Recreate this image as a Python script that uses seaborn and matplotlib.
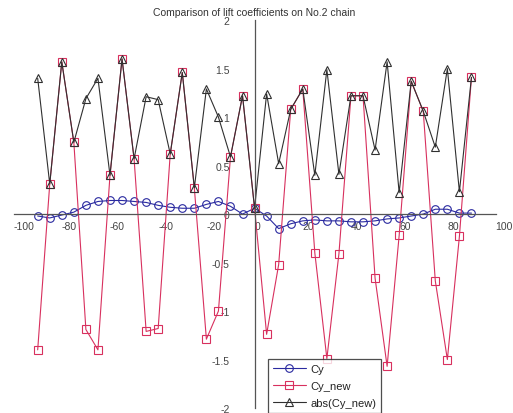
import numpy as np
import pandas as pd
import matplotlib
matplotlib.use("Agg")
import matplotlib.pyplot as plt
import seaborn as sns

# ---- data ----
x_vals = [-90, -85, -80, -75, -70, -65, -60, -55, -50, -45, -40, -35, -30, -25,
          -20, -15, -10, -5, 0, 5, 10, 15, 20, 25, 30, 35, 40, 45, 50, 55, 60,
          65, 70, 75, 80, 85, 90]
cy = [-0.02, -0.04, -0.01, 0.02, 0.09, 0.13, 0.14, 0.14, 0.13, 0.12, 0.09, 0.07,
      0.06, 0.06, 0.10, 0.13, 0.08, 0.00, 0.06,
      -0.02, -0.15, -0.10, -0.07, -0.06, -0.07, -0.07, -0.08, -0.08, -0.07,
      -0.05, -0.04, -0.02, 0.00, 0.05, 0.05, 0.01, 0.01]
cy_new = [-1.40, 0.31, 1.57, 0.74, -1.19, -1.40, 0.40, 1.60, 0.57, -1.21, -1.18,
          0.62, 1.46, 0.27, -1.29, -1.00, 0.59, 1.22, 0.06,
          -1.24, -0.52, 1.08, 1.29, -0.40, -1.49, -0.41, 1.22, 1.22, -0.66,
          -1.57, -0.22, 1.37, 1.06, -0.69, -1.50, -0.23, 1.41]
abs_cy_new = list(np.abs(cy_new))

xticks = [-100, -80, -60, -40, -20, 0, 20, 40, 60, 80, 100]
yticks = [-2, -1.5, -1, -0.5, 0, 0.5, 1, 1.5, 2]
ytick_labels = ["-2", "-1.5", "-1", "-0.5", "0", "0.5", "1", "1.5", "2"]
title = "Comparison of lift coefficients on No.2 chain"

# ---- style ----
sns.set_style("white")
plt.rcParams["font.family"] = ["Liberation Sans", "DejaVu Sans"]

fig = plt.figure(figsize=(5.13, 4.14), dpi=100)
ax = fig.add_axes([0.0265, 0.012, 0.9395, 0.937])

c_blue = "#2a2aa0"
c_red = "#d8305e"
c_black = "#303030"

sns.lineplot(x=x_vals, y=cy, ax=ax, color=c_blue, marker="o", markersize=5.5,
             markerfacecolor="none", markeredgecolor=c_blue, markeredgewidth=0.8,
             linewidth=0.8, label="Cy", sort=False)
sns.lineplot(x=x_vals, y=cy_new, ax=ax, color=c_red, marker="s", markersize=5.5,
             markerfacecolor="none", markeredgecolor=c_red, markeredgewidth=0.8,
             linewidth=0.8, label="Cy_new", sort=False)
sns.lineplot(x=x_vals, y=abs_cy_new, ax=ax, color=c_black, marker="^", markersize=6,
             markerfacecolor="none", markeredgecolor=c_black, markeredgewidth=0.8,
             linewidth=0.8, label="abs(Cy_new)", sort=False)

ax.set_xlim(-100, 100)
ax.set_ylim(-2, 2)
ax.set_xticks(xticks)
ax.set_xticklabels([str(t) for t in xticks])
ax.set_yticks(yticks)
ax.set_yticklabels(ytick_labels)

ax.spines["left"].set_position(("data", 0))
ax.spines["bottom"].set_position(("data", 0))
ax.spines["right"].set_visible(False)
ax.spines["top"].set_visible(False)
for s in ("left", "bottom"):
    ax.spines[s].set_color("#555555")
    ax.spines[s].set_linewidth(0.9)

ax.tick_params(axis="x", direction="in", length=4, width=0.8, colors="#555555",
               labelsize=7.5, labelcolor="#444444", pad=5)
ax.tick_params(axis="y", direction="in", length=4, width=0.8, colors="#555555",
               labelsize=7.5, labelcolor="#444444", pad=18)
for lab in ax.get_xticklabels():
    lab.set_ha("left")

ax.set_title(title, fontsize=7.5, color="#333333", pad=4)
ax.set_xlabel("")
ax.set_ylabel("")
ax.grid(False)

leg = ax.legend(loc="lower left", bbox_to_anchor=(0.527, -0.012), fontsize=8,
                frameon=True, fancybox=False, handlelength=3.0, borderpad=0.45,
                labelspacing=0.6, handletextpad=0.4, borderaxespad=0)
leg.get_frame().set_edgecolor("#222222")
leg.get_frame().set_linewidth(0.9)
for t in leg.get_texts():
    t.set_color("#222222")

fig.savefig("out.png", dpi=100, facecolor="white")
